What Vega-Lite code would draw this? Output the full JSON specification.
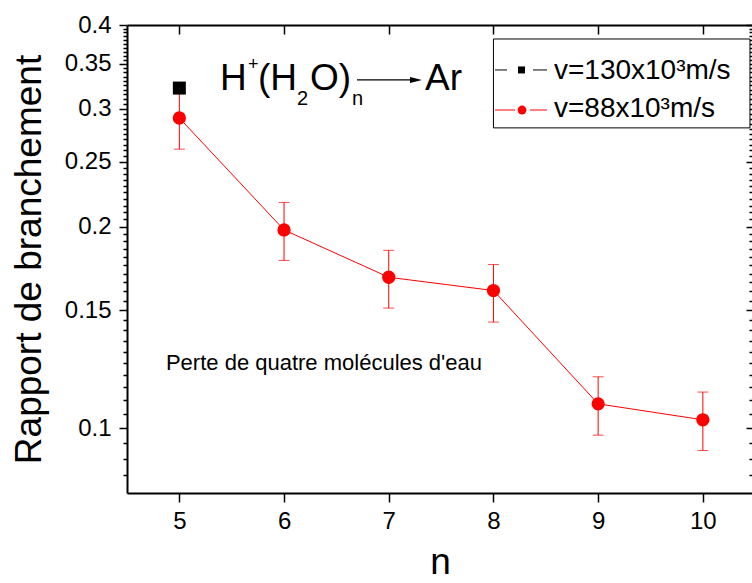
{
  "$schema": "https://vega.github.io/schema/vega-lite/v6.json",
  "width": 626,
  "height": 468,
  "autosize": {"type": "none"},
  "padding": {"left": 127, "top": 25, "right": 0, "bottom": 90},
  "background": "white",
  "config": {
    "view": {"stroke": null},
    "font": "Liberation Sans",
    "axis": {"grid": false, "domainColor": "black", "tickColor": "black", "labelColor": "black", "titleColor": "black", "titleFontWeight": "normal", "labelFont": "Liberation Sans", "titleFont": "Liberation Sans"}
  },
  "datasets": {
    "v88": [
      {"n": 5, "v": 0.2905, "lo": 0.261, "hi": 0.318},
      {"n": 6, "v": 0.1977, "lo": 0.178, "hi": 0.2172},
      {"n": 7, "v": 0.168, "lo": 0.1511, "hi": 0.1843},
      {"n": 8, "v": 0.1605, "lo": 0.144, "hi": 0.1755},
      {"n": 9, "v": 0.1087, "lo": 0.0976, "hi": 0.1193},
      {"n": 10, "v": 0.1029, "lo": 0.0926, "hi": 0.1132}
    ],
    "v130": [
      {"n": 5, "v": 0.322}
    ],
    "one": [{}]
  },
  "resolve": {"axis": {"x": "independent", "y": "independent"}},
  "layer": [
    {
      "data": {"name": "v88"},
      "mark": {"type": "line", "color": "#ff0000", "strokeWidth": 1},
      "encoding": {
        "x": {"field": "n", "type": "quantitative",
          "scale": {"domain": [4.5, 10.479], "nice": false, "zero": false},
          "axis": {"orient": "bottom", "values": [5, 6, 7, 8, 9, 10], "labelFontSize": 24, "tickSize": 9, "tickWidth": 1.5, "domainWidth": 2, "labelPadding": 7, "title": "n", "titleFontSize": 37, "titlePadding": 11}},
        "y": {"field": "v", "type": "quantitative",
          "scale": {"type": "log", "domain": [0.08, 0.4], "nice": false},
          "axis": {"orient": "left", "values": [0.1, 0.15, 0.2, 0.25, 0.3, 0.35, 0.4], "format": "~g", "labelFontSize": 24, "tickSize": 8, "tickWidth": 1.5, "domainWidth": 2, "labelPadding": 8, "title": "Rapport de branchement", "titleFontSize": 37, "titlePadding": 16}}
      }
    },
    {
      "data": {"name": "v88"},
      "mark": {"type": "rule", "color": "#ff0000", "strokeWidth": 1},
      "encoding": {
        "x": {"field": "n", "type": "quantitative",
          "axis": {"orient": "top", "values": [5, 6, 7, 8, 9, 10], "labels": false, "tickSize": -9, "tickWidth": 1.5, "domainWidth": 2, "title": null}},
        "y": {"field": "lo", "type": "quantitative",
          "axis": {"orient": "left", "values": [0.085,0.09,0.095,0.105,0.11,0.115,0.12,0.125,0.13,0.135,0.14,0.145,0.155,0.16,0.165,0.17,0.175,0.18,0.185,0.19,0.195,0.205,0.21,0.215,0.22,0.225,0.23,0.235,0.24,0.245,0.255,0.26,0.265,0.27,0.275,0.28,0.285,0.29,0.295,0.305,0.31,0.315,0.32,0.325,0.33,0.335,0.34,0.345,0.355,0.36,0.365,0.37,0.375,0.38,0.385,0.39,0.395], "labels": false, "domain": false, "tickSize": 4, "tickWidth": 1.5, "title": null}},
        "y2": {"field": "hi"}
      }
    },
    {
      "data": {"name": "v88"},
      "mark": {"type": "tick", "orient": "horizontal", "color": "#ff0000", "size": 11, "thickness": 1},
      "encoding": {
        "x": {"field": "n", "type": "quantitative", "axis": null},
        "y": {"field": "lo", "type": "quantitative",
          "axis": {"orient": "right", "values": [0.1, 0.15, 0.2, 0.25, 0.3, 0.35, 0.4], "labels": false, "domain": false, "tickSize": -7, "tickWidth": 1.5, "title": null}}
      }
    },
    {
      "data": {"name": "v88"},
      "mark": {"type": "tick", "orient": "horizontal", "color": "#ff0000", "size": 11, "thickness": 1},
      "encoding": {
        "x": {"field": "n", "type": "quantitative", "axis": null},
        "y": {"field": "hi", "type": "quantitative",
          "axis": {"orient": "right", "values": [0.085,0.09,0.095,0.105,0.11,0.115,0.12,0.125,0.13,0.135,0.14,0.145,0.155,0.16,0.165,0.17,0.175,0.18,0.185,0.19,0.195,0.205,0.21,0.215,0.22,0.225,0.23,0.235,0.24,0.245,0.255,0.26,0.265,0.27,0.275,0.28,0.285,0.29,0.295,0.305,0.31,0.315,0.32,0.325,0.33,0.335,0.34,0.345,0.355,0.36,0.365,0.37,0.375,0.38,0.385,0.39,0.395], "labels": false, "domain": false, "tickSize": -4, "tickWidth": 1.5, "title": null}}
      }
    },
    {
      "data": {"name": "v88"},
      "mark": {"type": "point", "shape": "circle", "filled": true, "color": "#ff0000", "size": 177, "opacity": 1},
      "encoding": {
        "x": {"field": "n", "type": "quantitative", "axis": null},
        "y": {"field": "v", "type": "quantitative", "axis": null}
      }
    },
    {
      "data": {"name": "v130"},
      "mark": {"type": "point", "shape": "square", "filled": true, "color": "#000000", "size": 169, "opacity": 1},
      "encoding": {
        "x": {"field": "n", "type": "quantitative", "axis": null},
        "y": {"field": "v", "type": "quantitative", "axis": null}
      }
    },
    {
      "data": {"name": "one"},
      "mark": {"type": "text", "text": "H", "align": "left", "baseline": "alphabetic", "fontSize": 37, "color": "black"},
      "encoding": {"x": {"datum": 5.388, "type": "quantitative", "axis": null}, "y": {"datum": 0.3199, "type": "quantitative", "axis": null}}
    },
    {
      "data": {"name": "one"},
      "mark": {"type": "text", "text": "+", "align": "left", "baseline": "alphabetic", "fontSize": 18, "color": "black"},
      "encoding": {"x": {"datum": 5.6557, "type": "quantitative", "axis": null}, "y": {"datum": 0.3427, "type": "quantitative", "axis": null}}
    },
    {
      "data": {"name": "one"},
      "mark": {"type": "text", "text": "(H", "align": "left", "baseline": "alphabetic", "fontSize": 37, "color": "black"},
      "encoding": {"x": {"datum": 5.751, "type": "quantitative", "axis": null}, "y": {"datum": 0.3199, "type": "quantitative", "axis": null}}
    },
    {
      "data": {"name": "one"},
      "mark": {"type": "text", "text": "2", "align": "left", "baseline": "alphabetic", "fontSize": 20, "color": "black"},
      "encoding": {"x": {"datum": 6.124, "type": "quantitative", "axis": null}, "y": {"datum": 0.3039, "type": "quantitative", "axis": null}}
    },
    {
      "data": {"name": "one"},
      "mark": {"type": "text", "text": "O)", "align": "left", "baseline": "alphabetic", "fontSize": 37, "color": "black"},
      "encoding": {"x": {"datum": 6.248, "type": "quantitative", "axis": null}, "y": {"datum": 0.3199, "type": "quantitative", "axis": null}}
    },
    {
      "data": {"name": "one"},
      "mark": {"type": "text", "text": "n", "align": "left", "baseline": "alphabetic", "fontSize": 20, "color": "black"},
      "encoding": {"x": {"datum": 6.649, "type": "quantitative", "axis": null}, "y": {"datum": 0.3039, "type": "quantitative", "axis": null}}
    },
    {
      "data": {"name": "one"},
      "mark": {"type": "rule", "color": "black", "strokeWidth": 1.2},
      "encoding": {"x": {"datum": 6.697, "type": "quantitative", "axis": null}, "x2": {"datum": 7.222}, "y": {"datum": 0.3311, "type": "quantitative", "axis": null}}
    },
    {
      "data": {"name": "one"},
      "mark": {"type": "point", "shape": "M-1,-0.5L1,0L-1,0.5Z", "filled": true, "color": "black", "size": 144, "opacity": 1},
      "encoding": {"x": {"datum": 7.26, "type": "quantitative", "axis": null}, "y": {"datum": 0.3311, "type": "quantitative", "axis": null}}
    },
    {
      "data": {"name": "one"},
      "mark": {"type": "text", "text": "Ar", "align": "left", "baseline": "alphabetic", "fontSize": 37, "color": "black"},
      "encoding": {"x": {"datum": 7.346, "type": "quantitative", "axis": null}, "y": {"datum": 0.3199, "type": "quantitative", "axis": null}}
    },
    {
      "data": {"name": "one"},
      "mark": {"type": "text", "text": "Perte de quatre molécules d'eau", "align": "left", "baseline": "alphabetic", "fontSize": 22, "color": "black"},
      "encoding": {"x": {"datum": 4.872, "type": "quantitative", "axis": null}, "y": {"datum": 0.1222, "type": "quantitative", "axis": null}}
    },
    {
      "data": {"name": "one"},
      "mark": {"type": "rect", "fill": "white", "stroke": "black", "strokeWidth": 1},
      "encoding": {"x": {"datum": 8.0, "type": "quantitative", "axis": null}, "x2": {"datum": 10.45}, "y": {"datum": 0.3812, "type": "quantitative", "axis": null}, "y2": {"datum": 0.2808}}
    },
    {
      "data": {"name": "one"},
      "mark": {"type": "rule", "color": "black", "strokeWidth": 1},
      "encoding": {"x": {"datum": 8.015, "type": "quantitative", "axis": null}, "x2": {"datum": 8.129}, "y": {"datum": 0.3427, "type": "quantitative", "axis": null}}
    },
    {
      "data": {"name": "one"},
      "mark": {"type": "rule", "color": "black", "strokeWidth": 1},
      "encoding": {"x": {"datum": 8.378, "type": "quantitative", "axis": null}, "x2": {"datum": 8.511}, "y": {"datum": 0.3427, "type": "quantitative", "axis": null}}
    },
    {
      "data": {"name": "one"},
      "mark": {"type": "point", "shape": "square", "filled": true, "color": "black", "size": 49, "opacity": 1},
      "encoding": {"x": {"datum": 8.268, "type": "quantitative", "axis": null}, "y": {"datum": 0.3427, "type": "quantitative", "axis": null}}
    },
    {
      "data": {"name": "one"},
      "mark": {"type": "text", "text": "v=130x10³m/s", "align": "left", "baseline": "alphabetic", "fontSize": 28, "color": "black"},
      "encoding": {"x": {"datum": 8.578, "type": "quantitative", "axis": null}, "y": {"datum": 0.3323, "type": "quantitative", "axis": null}}
    },
    {
      "data": {"name": "one"},
      "mark": {"type": "rule", "color": "#ff0000", "strokeWidth": 1},
      "encoding": {"x": {"datum": 8.015, "type": "quantitative", "axis": null}, "x2": {"datum": 8.206}, "y": {"datum": 0.2986, "type": "quantitative", "axis": null}}
    },
    {
      "data": {"name": "one"},
      "mark": {"type": "rule", "color": "#ff0000", "strokeWidth": 1},
      "encoding": {"x": {"datum": 8.349, "type": "quantitative", "axis": null}, "x2": {"datum": 8.511}, "y": {"datum": 0.2986, "type": "quantitative", "axis": null}}
    },
    {
      "data": {"name": "one"},
      "mark": {"type": "point", "shape": "circle", "filled": true, "color": "#ff0000", "size": 78, "opacity": 1},
      "encoding": {"x": {"datum": 8.273, "type": "quantitative", "axis": null}, "y": {"datum": 0.2986, "type": "quantitative", "axis": null}}
    },
    {
      "data": {"name": "one"},
      "mark": {"type": "text", "text": "v=88x10³m/s", "align": "left", "baseline": "alphabetic", "fontSize": 28, "color": "black"},
      "encoding": {"x": {"datum": 8.578, "type": "quantitative", "axis": null}, "y": {"datum": 0.2915, "type": "quantitative", "axis": null}}
    }
  ]
}
